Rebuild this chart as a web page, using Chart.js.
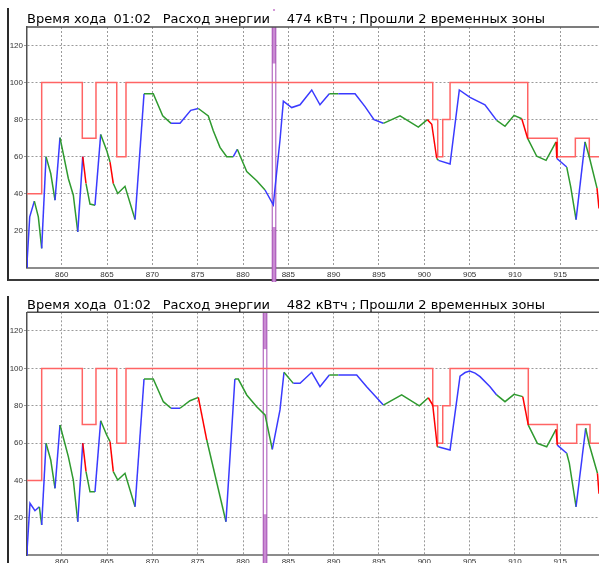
<!DOCTYPE html>
<html>
<head>
<meta charset="utf-8">
<script src="https://cdn.jsdelivr.net/npm/chart.js@4/dist/chart.umd.min.js"></script>
<style>
  html, body { margin: 0; padding: 0; background: #fff; }
  #wrap { position: relative; width: 599px; height: 563px; overflow: hidden; }
  .frame { position: absolute; left: 7px; border-left: 2px solid #2a2a2a; }
  #f1 { top: 8px; height: 271px; width: 600px; border-bottom: 2px solid #3a3a3a; }
  #f2 { top: 296px; height: 300px; width: 600px; }
  canvas { position: absolute; left: 0; }
  #c1 { top: 0; }
  #c2 { top: 285px; }
</style>
</head>
<body>
<div id="wrap">
  <div class="frame" id="f1"></div>
  <div class="frame" id="f2"></div>
  <canvas id="c1" width="599" height="282"></canvas>
  <canvas id="c2" width="599" height="278"></canvas>
</div>
<script>
// Axis extents and tick values (km on x, speed on y)
const xMin = 856.17, xMax = 919.27;
const yMin = 0, yMax = 130;
const xTicks = [860, 865, 870, 875, 880, 885, 890, 895, 900, 905, 910, 915];
const yTicks = [20, 40, 60, 80, 100, 120];

// Run 1: speed trace; mode of each segment ending at the point (b = traction, g = coasting, r = braking)
const run1X = [856.17, 856.2, 856.47, 856.98, 857.42, 857.79, 858.27, 858.79, 859.26, 859.81,
  860.73, 861.28, 861.77, 862.32, 862.68, 863.12, 863.67, 864.30, 864.96, 865.33,
  865.69, 866.18, 866.98, 868.09, 869.08, 870.1, 871.14, 872.06, 873.05, 874.23,
  875.07, 876.17, 876.72, 877.46, 878.2, 878.93, 879.37, 880.41, 881.51, 882.43,
  883.34, 884.08, 884.45, 885.37, 886.29, 887.58, 888.49, 889.52, 890.51, 892.36,
  893.46, 894.45, 895.48, 897.32, 899.34, 900.33, 900.82, 901.37, 901.55, 902.84,
  903.86, 905.04, 906.69, 907.98, 908.9, 909.9, 910.75, 911.41, 912.4, 913.43,
  914.53, 914.62, 915.71, 916.15, 916.74, 917.73, 918.2, 919.05, 919.27];
const run1Y = [0, 5, 27.5, 36, 27.5, 10.5, 60, 50.9, 36.5, 70.3,
  48.2, 39.2, 19.4, 60, 45.5, 34.4, 33.8, 72, 63.4, 57.1,
  45.5, 40.1, 44, 26.1, 94, 94, 82, 78, 78, 85,
  86, 82, 74, 65, 60, 60, 64, 52, 47, 42,
  34, 69, 90, 86.5, 88, 96, 88, 94, 94, 94,
  87, 80, 78, 82, 76, 80, 77.5, 59, 58, 56,
  96, 92, 88, 79.6, 76.4, 82.3, 80.5, 69.7, 60.2, 58,
  68, 59, 54.4, 43.7, 26, 68, 59.8, 43, 32];
const run1Mode = ['b', 'b', 'b', 'b', 'g', 'g', 'b', 'g', 'g', 'b',
  'g', 'g', 'g', 'b', 'r', 'g', 'g', 'b', 'g', 'g',
  'r', 'g', 'g', 'g', 'b', 'g', 'g', 'g', 'b', 'b',
  'b', 'g', 'g', 'g', 'g', 'g', 'b', 'g', 'g', 'g',
  'b', 'b', 'b', 'b', 'b', 'b', 'b', 'b', 'g', 'b',
  'b', 'b', 'b', 'g', 'g', 'g', 'r', 'r', 'g', 'b',
  'b', 'b', 'b', 'b', 'g', 'g', 'g', 'r', 'g', 'g',
  'g', 'r', 'b', 'g', 'g', 'b', 'g', 'g', 'r'];
// Run 1: speed limit steps (value holds from each x to the next)
const run1LimitX = [856.17, 857.79, 862.27, 863.78, 866.07, 867.09, 900.93, 901.48, 902.03, 902.84, 911.41, 914.67, 916.66, 918.2, 919.27];
const run1LimitY = [40, 100, 70, 100, 60, 100, 80, 60, 80, 100, 70, 60, 70, 60, 60];
const run1Cursor = 883.42;
const run1Energy = 474;

// Run 2
const run2X = [856.17, 856.2, 856.5, 857.05, 857.53, 857.79, 858.27, 858.79, 859.26, 859.81,
  860.73, 861.28, 861.77, 862.32, 862.68, 863.12, 863.67, 864.3, 864.96, 865.33,
  865.69, 866.18, 866.98, 868.09, 869.08, 870.1, 871.21, 872.06, 873.05, 874.15,
  875.07, 876.0, 878.12, 879.1, 879.48, 880.41, 881.51, 882.43, 883.23, 884.08,
  884.52, 885.55, 886.29, 887.58, 888.49, 889.52, 890.51, 892.54, 893.64, 895.48,
  897.5, 899.45, 900.44, 900.93, 901.43, 901.6, 902.84, 903.94, 904.5, 905.0,
  905.6, 906.15, 907.25, 907.98, 908.9, 909.9, 910.86, 911.47, 912.47, 913.5,
  914.53, 914.67, 915.71, 916.0, 916.74, 917.8, 918.2, 919.1, 919.27];
const run2Y = [0, 4.6, 27.9, 23.9, 26, 16.3, 60, 51, 35.9, 69.7,
  52.8, 40.3, 18, 60, 44.8, 34, 34, 72, 64.4, 60.8,
  44.8, 40.3, 43.9, 26, 94.3, 94.3, 82.2, 78.7, 78.7, 82.7,
  84.5, 61.7, 18, 94.3, 94.3, 85.8, 79.5, 75.1, 56.7, 77.8,
  97.9, 92, 92, 97.9, 90.2, 96.5, 96.5, 96.5, 90.2, 80.4,
  85.8, 80, 84.3, 80.4, 58.1, 58, 56.4, 95.9, 97.8, 98.6,
  97.5, 95.6, 90.2, 85.8, 82.2, 86.1, 84.9, 69.7, 59.9, 58.1,
  67.4, 59, 54.6, 49.2, 26, 68, 59.2, 43.9, 33];
const run2Mode = ['b', 'b', 'b', 'b', 'b', 'g', 'b', 'g', 'g', 'b',
  'g', 'g', 'g', 'b', 'r', 'g', 'g', 'b', 'g', 'g',
  'r', 'g', 'g', 'g', 'b', 'g', 'g', 'g', 'b', 'g',
  'g', 'r', 'g', 'b', 'g', 'g', 'g', 'g', 'g', 'b',
  'b', 'g', 'b', 'b', 'b', 'b', 'g', 'b', 'b', 'b',
  'g', 'g', 'g', 'r', 'r', 'g', 'b', 'b', 'b', 'b',
  'b', 'b', 'b', 'b', 'g', 'g', 'g', 'r', 'g', 'g',
  'g', 'r', 'b', 'g', 'g', 'b', 'g', 'g', 'r'];
const run2LimitX = [856.17, 857.79, 862.27, 863.78, 866.07, 867.09, 900.93, 901.48, 902.03, 902.84, 911.47, 914.67, 916.81, 918.28, 919.27];
const run2LimitY = [40, 100, 70, 100, 60, 100, 80, 60, 80, 100, 70, 60, 70, 60, 60];
const run2Cursor = 882.43;
const run2Energy = 482;

const modeColor = { b: '#3a3aff', g: '#2f9a2f', r: '#ff0000' };

const toPoints = (xs, ys) => xs.map((x, i) => ({ x: x, y: ys[i] }));

// Draws the cursor bar, the plot's top border and the status line
const panelDecor = {
  id: 'panelDecor',
  beforeDatasetsDraw(chart, args, o) {
    const { ctx, chartArea: a, scales } = chart;
    const cx = scales.x.getPixelForValue(o.cursor);
    const hw = 1.8;
    const yHi = scales.y.getPixelForValue(110.3);
    const yLo = scales.y.getPixelForValue(22);
    const yEnd = chart.height;
    ctx.save();
    ctx.fillStyle = '#ffffff';
    ctx.fillRect(cx - hw, a.top, hw * 2, yEnd - a.top);
    ctx.fillStyle = '#c98bd2';
    ctx.fillRect(cx - hw, a.top, hw * 2, yHi - a.top);
    ctx.fillRect(cx - hw, yLo, hw * 2, yEnd - yLo);
    ctx.strokeStyle = '#a44bb4';
    ctx.lineWidth = 1;
    ctx.beginPath();
    ctx.moveTo(cx - hw, a.top); ctx.lineTo(cx - hw, yEnd);
    ctx.moveTo(cx + hw, a.top); ctx.lineTo(cx + hw, yEnd);
    ctx.stroke();
    if (o.dot) {
      ctx.fillStyle = '#d49ad8';
      ctx.fillRect(cx - 1, 9, 2, 2);
    }
    ctx.restore();
  },
  afterDraw(chart, args, o) {
    const { ctx, chartArea: a } = chart;
    ctx.save();
    ctx.strokeStyle = '#505050';
    ctx.lineWidth = 1.5;
    ctx.beginPath();
    ctx.moveTo(a.left, a.top);
    ctx.lineTo(a.right, a.top);
    ctx.stroke();
    ctx.fillStyle = '#000';
    ctx.font = '13px "DejaVu Sans"';
    ctx.textBaseline = 'alphabetic';
    const parts = [
      ['Время хода', 27],
      ['01:02', 113.5],
      ['Расход энергии', 162.7],
      [o.energy + ' кВтч ;', 286.7],
      ['Прошли 2 временных зоны', 359.5]
    ];
    parts.forEach(([t, x]) => ctx.fillText(t, x, o.titleY));
    ctx.restore();
  }
};

function makeRun(canvasId, xs, ys, modes, limX, limY, cursor, energy, layout) {
  return new Chart(document.getElementById(canvasId), {
    type: 'line',
    data: {
      datasets: [
        {
          data: toPoints(xs, ys),
          borderWidth: 1.5,
          borderColor: modeColor.b,
          pointRadius: 0,
          tension: 0,
          segment: {
            borderColor: ctx => modeColor[modes[ctx.p1DataIndex]]
          }
        },
        {
          data: toPoints(limX, limY),
          borderWidth: 1.5,
          borderColor: '#ff6464',
          pointRadius: 0,
          stepped: 'before'
        }
      ]
    },
    options: {
      responsive: false,
      animation: false,
      devicePixelRatio: 1,
      events: [],
      layout: { padding: { top: layout.top, left: 0, right: 0, bottom: 0 } },
      plugins: {
        legend: { display: false },
        tooltip: { enabled: false },
        panelDecor: { cursor: cursor, energy: energy, titleY: layout.titleY, dot: layout.dot }
      },
      scales: {
        x: {
          type: 'linear',
          min: xMin,
          max: xMax,
          afterBuildTicks: s => { s.ticks = xTicks.map(v => ({ value: v })); },
          afterFit: s => { s.height = layout.axisH; },
          ticks: {
            autoSkip: false,
            maxRotation: 0,
            padding: 2,
            color: '#333',
            font: { family: 'Liberation Sans', size: 8 }
          },
          grid: {
            color: '#9a9a9a',
            lineWidth: 1,
            drawTicks: false
          },
          border: { display: true, color: '#8c8c8c', width: 2, dash: [2, 2] }
        },
        y: {
          min: yMin,
          max: yMax,
          afterBuildTicks: s => { s.ticks = yTicks.map(v => ({ value: v })); },
          afterFit: s => { s.width = 27; },
          ticks: {
            padding: 1,
            color: '#333',
            font: { family: 'Liberation Sans', size: 8 }
          },
          grid: {
            color: '#9a9a9a',
            lineWidth: 1,
            tickLength: 3
          },
          border: { display: true, color: '#505050', width: 1.5, dash: [2, 2] }
        }
      }
    },
    plugins: [panelDecor]
  });
}

makeRun('c1', run1X, run1Y, run1Mode, run1LimitX, run1LimitY, run1Cursor, run1Energy,
  { top: 27, axisH: 14.2, titleY: 23.3, dot: true });
makeRun('c2', run2X, run2Y, run2Mode, run2LimitX, run2LimitY, run2Cursor, run2Energy,
  { top: 27.3, axisH: 7.6, titleY: 24.3, dot: false });
</script>
</body>
</html>
